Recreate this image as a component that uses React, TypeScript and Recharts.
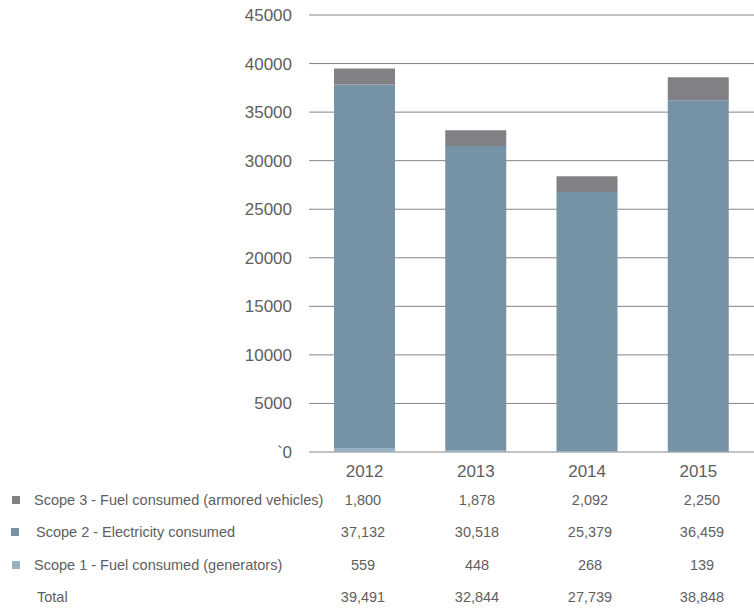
import { BarChart, Bar, XAxis, YAxis, CartesianGrid } from "recharts";

const years = ["2012", "2013", "2014", "2015"];

// bar heights as drawn in the picture
const barScope1 = [400, 200, 100, 30];
const barScope2 = [37450, 31300, 26680, 36190];
const barScope3 = [1650, 1630, 1620, 2370];

// values printed in the table under the chart
const tableScope1 = [559, 448, 268, 139];
const tableScope2 = [37132, 30518, 25379, 36459];
const tableScope3 = [1800, 1878, 2092, 2250];
const tableTotal = [39491, 32844, 27739, 38848];

const yTicks = [0, 5000, 10000, 15000, 20000, 25000, 30000, 35000, 40000, 45000];

const C1 = "#97b0c4";
const C2 = "#7693a5";
const C3 = "#818185";
const TXT = "#5e5e5e";

const data = years.map((y, i) => ({ year: y, s1: barScope1[i], s2: barScope2[i], s3: barScope3[i] }));

const fmt = (n: number) => n.toLocaleString("en-US");

const rows = [
  { label: "Scope 3 - Fuel consumed (armored vehicles)", color: C3, values: tableScope3, y: 500, tx: 34, sx: 12 },
  { label: "Scope 2 - Electricity consumed", color: C2, values: tableScope2, y: 532, tx: 36, sx: 11 },
  { label: "Scope 1 - Fuel consumed (generators)", color: C1, values: tableScope1, y: 565, tx: 34, sx: 12 },
  { label: "Total", color: null, values: tableTotal, y: 597, tx: 37, sx: 0 },
];
const colX = [363, 477, 590, 702];

export default function App() {
  return (
    <div
      style={{
        position: "absolute",
        left: 0,
        top: 0,
        width: 754,
        height: 612,
        overflow: "hidden",
        background: "#fff",
        fontFamily: "'Liberation Sans', Arial, sans-serif",
      }}
    >
      <BarChart width={754} height={481} data={data} margin={{ top: 15, right: 0, left: 0, bottom: 0 }}>
        <CartesianGrid horizontal vertical={false} stroke="#858585" strokeWidth={1} />
        <XAxis
          dataKey="year"
          axisLine={false}
          tickLine={false}
          tickSize={0}
          tickMargin={13}
          height={29}
          tick={{ fill: TXT, fontSize: 17 }}
        />
        <YAxis
          width={309}
          domain={[0, 45000]}
          ticks={yTicks}
          interval={0}
          axisLine={false}
          tickLine={false}
          tickSize={0}
          tickMargin={17}
          tickFormatter={(v: number) => (v === 0 ? "`0" : String(v))}
          tick={{ fill: TXT, fontSize: 17 }}
        />
        <Bar dataKey="s1" stackId="a" fill={C1} barSize={61} isAnimationActive={false} />
        <Bar dataKey="s2" stackId="a" fill={C2} barSize={61} isAnimationActive={false} />
        <Bar dataKey="s3" stackId="a" fill={C3} barSize={61} isAnimationActive={false} />
      </BarChart>
      {rows.map((r) => (
        <div key={r.label}>
          {r.color && (
            <div
              style={{ position: "absolute", left: r.sx, top: r.y - 4, width: 8, height: 8, background: r.color }}
            />
          )}
          <div
            style={{
              position: "absolute",
              left: r.tx,
              top: r.y - 9,
              fontSize: 14.5,
              lineHeight: "18px",
              color: TXT,
              whiteSpace: "nowrap",
            }}
          >
            {r.label}
          </div>
          {r.values.map((v, i) => (
            <div
              key={i}
              style={{
                position: "absolute",
                left: colX[i] - 40,
                width: 80,
                top: r.y - 9,
                textAlign: "center",
                fontSize: 14.5,
                lineHeight: "18px",
                color: TXT,
              }}
            >
              {fmt(v)}
            </div>
          ))}
        </div>
      ))}
    </div>
  );
}
